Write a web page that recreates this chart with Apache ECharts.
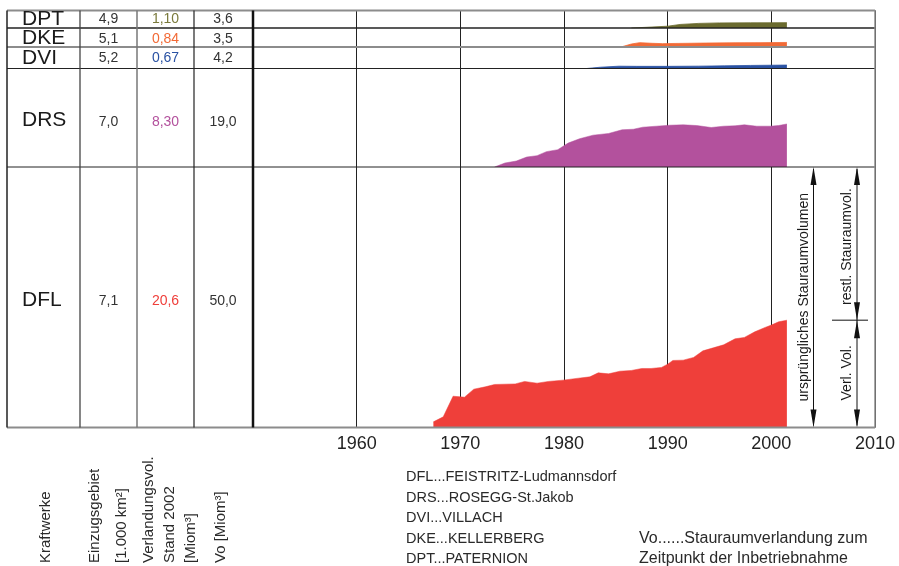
<!DOCTYPE html>
<html>
<head>
<meta charset="utf-8">
<script src="https://cdn.jsdelivr.net/npm/echarts@6/dist/echarts.min.js"></script>
<style>
html,body{margin:0;padding:0;background:#fff;}
#c{width:899px;height:566px;}
</style>
</head>
<body>
<div id="c"></div>
<script>
// ---------- data ----------
const plants      = ['DPT', 'DKE', 'DVI', 'DRS', 'DFL'];
const catchment   = ['4,9', '5,1', '5,2', '7,0', '7,1'];
const verlandText = ['1,10', '0,84', '0,67', '8,30', '20,6'];
const voVals      = [3.6, 3.5, 4.2, 19.0, 50.0];
const plantColors = ['#6b6b2f', '#f26a36', '#2a52a3', '#b3519d', '#ef3f3a'];
const textColors  = ['#7a7a3c', '#f26a36', '#2a52a3', '#b3519d', '#ef3f3a'];
const xTickLabels = ['1960', '1970', '1980', '1990', '2000', '2010'];
const legendLines = ['DFL...FEISTRITZ-Ludmannsdorf', 'DRS...ROSEGG-St.Jakob', 'DVI...VILLACH', 'DKE...KELLERBERG', 'DPT...PATERNION'];
const noteLines   = ['Vo......Stauraumverlandung zum', 'Zeitpunkt der Inbetriebnahme'];

const dptYears = [1986.5, 1988, 1990, 1991.2, 1993, 1995, 1998, 2000, 2001.5];
const dptVals  = [0, 0.15, 0.37, 0.73, 0.95, 1.05, 1.07, 1.08, 1.10];

const dkeYears = [1985.5, 1986.5, 1987.3, 1988.5, 1989.5, 1991, 1993.5, 1996.5, 1999, 2001.5];
const dkeVals  = [0, 0.55, 0.80, 0.68, 0.62, 0.66, 0.72, 0.78, 0.80, 0.84];

const dviYears = [1982.2, 1983.5, 1985.3, 1987, 1990, 1993, 1995.5, 1998, 2000, 2001.5];
const dviVals  = [0, 0.25, 0.45, 0.42, 0.42, 0.46, 0.52, 0.60, 0.64, 0.67];

const drsYears = [1973.3, 1974.3, 1975.4, 1976.4, 1977.4, 1978.3, 1979.4, 1980.4, 1981.5, 1982.8, 1984.3, 1985.6, 1986.7, 1987.6, 1988.9, 1990.2, 1991.5, 1992.8, 1994.2, 1995.4, 1996.5, 1997.4, 1998.6, 1999.9, 2000.7, 2001.5];
const drsVals  = [0, 0.77, 1.15, 1.92, 2.19, 2.96, 3.34, 4.61, 5.45, 6.14, 6.47, 7.18, 7.29, 7.68, 7.87, 8.06, 8.14, 8.0, 7.62, 7.87, 7.95, 8.14, 7.87, 7.87, 8.0, 8.30];

const dflYears = [1967.4, 1968.35, 1969.3, 1970.0, 1970.4, 1971.3, 1972.4, 1973.3, 1975.3, 1976.2, 1977.4, 1978.5, 1979.9, 1981.4, 1982.5, 1983.3, 1984.3, 1985.4, 1986.5, 1987.5, 1988.4, 1989.4, 1990.0, 1990.5, 1991.5, 1992.5, 1993.4, 1994.4, 1995.4, 1996.5, 1997.4, 1998.4, 1999.4, 2000.0, 2000.7, 2001.5];
const dflVals  = [1.08, 2.04, 6.01, 5.88, 5.82, 7.36, 7.80, 8.26, 8.37, 8.84, 8.51, 8.84, 9.09, 9.47, 9.72, 10.49, 10.30, 10.81, 10.95, 11.33, 11.33, 11.53, 12.16, 12.87, 12.93, 13.45, 14.71, 15.29, 15.87, 17.02, 17.29, 18.36, 19.21, 19.65, 20.28, 20.6];

const seriesYears = [dptYears, dkeYears, dviYears, drsYears, dflYears];
const seriesVals  = [dptVals, dkeVals, dviVals, drsVals, dflVals];

// ---------- layout ----------
(function () {
const FONT = '"Liberation Sans", Arial, Helvetica, sans-serif';
const plotLeft = 253, plotRight = 875, tableLeft = 7;
const rowEdges = [10.5, 28, 47, 68.5, 167, 427.5];
const colEdges = [7, 80, 137, 194, 253];
const colCenters = [108.5, 165.5, 223];
const nameY = [19.5, 38.5, 58, 120, 300];
const numY  = [19.5, 39, 58.5, 122.5, 301.5];

const chart = echarts.init(document.getElementById('c'), null, {renderer: 'canvas'});

const grids = [], xAxes = [], yAxes = [], series = [];
for (let i = 0; i < 5; i++) {
  grids.push({left: plotLeft, width: plotRight - plotLeft, top: rowEdges[i], height: rowEdges[i + 1] - rowEdges[i]});
  xAxes.push({
    type: 'value', gridIndex: i, min: 1950, max: 2010, interval: 10,
    axisLine: {show: false}, axisTick: {show: false},
    splitLine: {show: true, lineStyle: {color: '#222', width: 1}},
    axisLabel: {
      show: i === 4, margin: 8, fontSize: 18, color: '#222', fontFamily: FONT,
      formatter: v => xTickLabels.indexOf(String(v)) >= 0 ? String(v) : ''
    }
  });
  yAxes.push({type: 'value', gridIndex: i, min: 0, max: voVals[i], show: false, splitLine: {show: false}});
  series.push({
    type: 'line', xAxisIndex: i, yAxisIndex: i, symbol: 'none', smooth: false,
    lineStyle: {width: i < 3 ? 0.8 : 0.5, color: plantColors[i]},
    areaStyle: {color: plantColors[i], opacity: 1},
    itemStyle: {color: plantColors[i]},
    data: seriesYears[i].map((y, k) => [y, seriesVals[i][k]]),
    z: 3, silent: true, animation: false
  });
}

chart.setOption({
  animation: false,
  grid: grids, xAxis: xAxes, yAxis: yAxes, series: series
});

// ---------- decorations ----------
function line(x1, y1, x2, y2, stroke, w, z) {
  return {type: 'line', shape: {x1, y1, x2, y2}, style: {stroke, lineWidth: w}, z: z || 10, silent: true};
}
function text(t, x, y, size, color, align, vAlign, rot) {
  return {type: 'text', x, y, rotation: rot || 0,
    style: {text: t, fontSize: size, fill: color, fontFamily: FONT, align: align || 'left', verticalAlign: vAlign || 'middle'},
    z: 12, silent: true};
}
function arrowHead(x, tipY, dir) { // dir -1 = points up, +1 = points down
  const L = 18, hw = 3;
  return {type: 'polygon', shape: {points: [[x, tipY], [x - hw, tipY - dir * L], [x + hw, tipY - dir * L]]},
    style: {fill: '#111'}, z: 12, silent: true};
}

const g = [];
const hStyles = [['#8c8c8c', 2], ['#222', 1.3], ['#8c8c8c', 2], ['#222', 1], ['#222', 1], ['#8c8c8c', 2]];
rowEdges.forEach((y, i) => g.push(line(tableLeft, y, plotRight, y, hStyles[i][0], hStyles[i][1])));
const cStyles = [['#222', 1.5], ['#444', 1.3], ['#777', 1.5], ['#222', 1.2], ['#111', 2.5]];
colEdges.forEach((x, i) => g.push(line(x, rowEdges[0], x, rowEdges[5], cStyles[i][0], cStyles[i][1])));
g.push(line(plotRight, rowEdges[0], plotRight, rowEdges[5], '#8c8c8c', 1.5));

for (let i = 0; i < 5; i++) {
  g.push(text(plants[i], 22, nameY[i], 21, '#1a1a1a', 'left', 'middle'));
  g.push(text(catchment[i], colCenters[0], numY[i], 14, '#333', 'center', 'middle'));
  g.push(text(verlandText[i], colCenters[1], numY[i], 14, textColors[i], 'center', 'middle'));
  g.push(text(String(voVals[i].toFixed(1)).replace('.', ','), colCenters[2], numY[i], 14, '#333', 'center', 'middle'));
}

const R = Math.PI / 2;
const headBottom = 563;
[['Kraftwerke', 46], ['Einzugsgebiet', 95], ['[1.000 km²]', 121.5], ['Verlandungsvol.', 149], ['Stand 2002', 170], ['[Miom³]', 191], ['Vo [Miom³]', 221]]
  .forEach(h => g.push(text(h[0], h[1], headBottom, 15, '#2a2a2a', 'left', 'middle', R)));

const legY = [477, 497.5, 518, 538.5, 559];
legendLines.forEach((t, i) => g.push(text(t, 406, legY[i], 14.5, '#2a2a2a', 'left', 'middle')));
noteLines.forEach((t, i) => g.push(text(t, 639, legY[3 + i], 16, '#2a2a2a', 'left', 'middle')));

const pTop = rowEdges[4], pBot = rowEdges[5];
const split = chart.convertToPixel({gridIndex: 4}, [2001.5, dflVals[dflVals.length - 1]])[1];
const ax1 = 813.5, ax2 = 857;
g.push(line(ax1, pTop + 2, ax1, pBot - 2, '#111', 1));
g.push(arrowHead(ax1, pTop, -1), arrowHead(ax1, pBot, 1));
g.push(line(ax2, pTop + 2, ax2, pBot - 2, '#111', 1));
g.push(arrowHead(ax2, pTop, -1), arrowHead(ax2, split, 1), arrowHead(ax2, split, -1), arrowHead(ax2, pBot, 1));
g.push(line(832, split, 868, split, '#111', 1));
g.push(text('ursprüngliches Stauraumvolumen', 804.5, (pTop + pBot) / 2, 14, '#1a1a1a', 'center', 'middle', R));
g.push(text('restl. Stauraumvol.', 847.5, (pTop + split) / 2 + 3, 14, '#1a1a1a', 'center', 'middle', R));
g.push(text('Verl. Vol.', 847.5, (split + pBot) / 2 - 1, 14, '#1a1a1a', 'center', 'middle', R));

chart.setOption({graphic: {elements: g}});
})();
</script>
</body>
</html>
